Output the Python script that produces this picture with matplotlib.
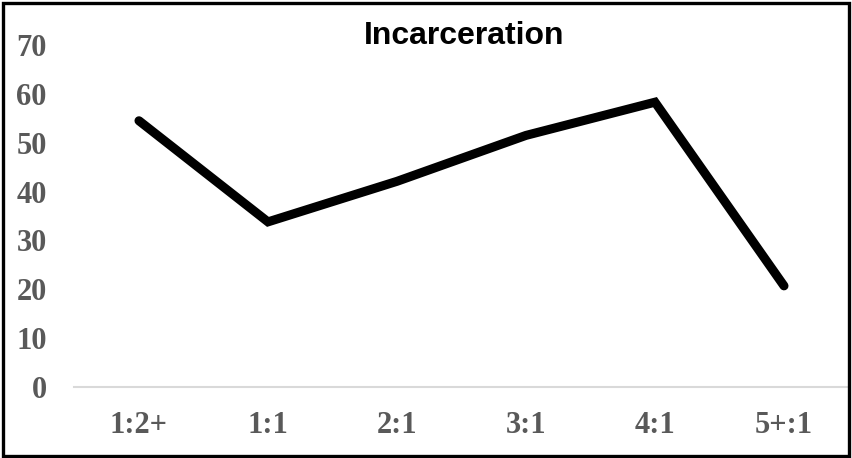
import matplotlib
matplotlib.use("Agg")
import matplotlib.pyplot as plt
from matplotlib.patches import Rectangle

categories = ["1:2+", "1:1", "2:1", "3:1", "4:1", "5+:1"]
values = [54.5, 33.8, 42.1, 51.5, 58.3, 20.7]
y_ticks = [0, 10, 20, 30, 40, 50, 60, 70]
title = "Incarceration"

fig = plt.figure(figsize=(8.52, 4.58), dpi=100)
ax = fig.add_axes([0.0874, 0.155, 0.9085, 0.7467])

x = list(range(len(categories)))
ax.plot(x, values, color="black", linewidth=6.5,
        solid_capstyle="round", solid_joinstyle="miter")

ax.set_xlim(-0.5, len(categories) - 0.5)
ax.set_ylim(0, 70)
ax.set_yticks(y_ticks)
ax.set_xticks(x)
ax.set_xticklabels(categories)

for lbl in ax.get_yticklabels() + ax.get_xticklabels():
    lbl.set_fontfamily("Liberation Serif")
    lbl.set_fontweight("bold")
    lbl.set_fontsize(22)
    lbl.set_color("#595959")

ax.tick_params(axis="both", length=0)
ax.tick_params(axis="y", pad=20)
ax.tick_params(axis="x", pad=17)

for side in ("top", "right", "left"):
    ax.spines[side].set_visible(False)
ax.spines["bottom"].set_color("#d9d9d9")
ax.spines["bottom"].set_linewidth(1.5)

fig.text(0.545, 0.922, title, ha="center", va="center",
         family="Liberation Sans", weight="bold", size=23, color="black")

fig.patches.append(Rectangle((0.003, 0.004), 0.994, 0.99, transform=fig.transFigure,
                             fill=False, edgecolor="black", linewidth=2.4))

fig.savefig("out.png", dpi=100)
